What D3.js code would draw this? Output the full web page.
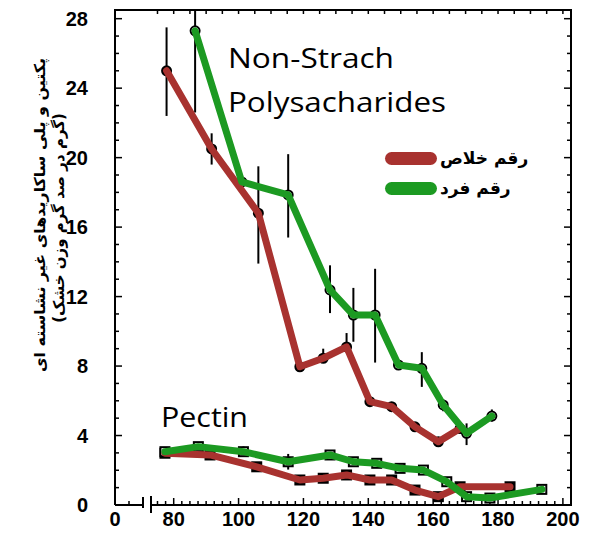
<!DOCTYPE html>
<html>
<head>
<meta charset="utf-8">
<script src="https://cdn.jsdelivr.net/npm/d3@7"></script>
<style>
  body { margin: 0; background: #fff; }
  svg { display: block; }
</style>
</head>
<body>
<div id="graph"></div>
<script>
// values
const xTicks = [80, 100, 120, 140, 160, 180, 200];
const yTicks = [0, 4, 8, 12, 16, 20, 24, 28];

// non-starch polysaccharides, رقم خلاص (red)
const nspRedX = [77.8, 91.7, 106.1, 118.9, 126.1, 133.3, 140.5, 147.2, 154.4, 161.6, 168.3];
const nspRedY = [25.0, 20.5, 16.8, 7.96, 8.45, 9.1, 5.95, 5.66, 4.5, 3.64, 4.4];
const nspRedLo = [22.4, 19.6, 13.9, 7.7, 8.2, 8.9, 5.7, 5.4, 4.25, 3.4, 4.2];
const nspRedHi = [27.5, 21.4, 19.5, 8.2, 9.0, 9.9, 6.2, 5.9, 4.75, 3.9, 4.6];

// non-starch polysaccharides, رقم فرد (green)
const nspGreenX = [86.6, 101.0, 115.3, 128.2, 135.4, 142.1, 149.3, 156.5, 163.1, 170.3, 178.1];
const nspGreenY = [27.3, 18.6, 17.85, 12.38, 10.94, 10.94, 8.06, 7.87, 5.76, 4.13, 5.12];
const nspGreenLo = [22.6, 18.3, 15.4, 11.05, 9.4, 8.2, 7.8, 6.8, 5.4, 3.45, 4.8];
const nspGreenHi = [28.5, 18.9, 20.2, 13.8, 12.5, 13.6, 8.3, 8.8, 6.1, 4.7, 5.5];

// pectin
const pecRedX = [77.3, 91.2, 105.6, 118.9, 126.1, 133.3, 140.5, 147.2, 154.4, 161.6, 168.3, 183.7];
const pecRedY = [2.98, 2.88, 2.2, 1.44, 1.54, 1.73, 1.44, 1.44, 0.86, 0.48, 1.05, 1.05];
const pecGreenX = [77.3, 87.6, 101.5, 115.3, 128.2, 135.4, 142.6, 149.8, 157.0, 164.2, 170.3, 177.5, 193.5];
const pecGreenY = [3.07, 3.36, 3.07, 2.49, 2.88, 2.49, 2.4, 2.11, 2.01, 1.34, 0.48, 0.4, 0.9];
const pecGreenErr = [0.2, 0.2, 0.3, 0.45, 0.2, 0.2, 0.2, 0.2, 0.2, 0.2, 0.2, 0, 0.2];

const legendNames = ["رقم خلاص", "رقم فرد"];
const yTitle = ["پکتین و پلی ساکاریدهای غیر نشاسته ای", "(گرم در صد گرم وزن خشک)"];
const colors = ["#a8322f", "#1c9a22"];

const w = 591;
const h = 541;

const svg = d3.select("#graph").append("svg")
  .attr("width", w)
  .attr("height", h);

// broken x axis: 0 on the left, then jump to the 73..202.5 part
const x = d3.scaleLinear()
  .domain([0, 8.6, 73, 202.5])
  .range([115, 143, 151, 571]);
const y = d3.scaleLinear()
  .domain([0, 28.5])
  .range([505, 10]);

const frame = svg.append("g").attr("stroke", "black").attr("stroke-width", 2).attr("fill", "none");
frame.append("path")
  .attr("d", `M${x(0)},${y(0)} V${y(28.5)} H${x(202.5)} V${y(0)} H${x(73)}`);
frame.append("line").attr("x1", x(0)).attr("x2", x(8.6)).attr("y1", y(0)).attr("y2", y(0));
// break marks
frame.append("line").attr("x1", x(8.6)).attr("x2", x(8.6)).attr("y1", y(0) - 8).attr("y2", y(0) + 3);
frame.append("line").attr("x1", x(73)).attr("x2", x(73)).attr("y1", y(0) - 9).attr("y2", y(0) + 8);

// minor ticks, all pointing inward
const ticks = svg.append("g").attr("stroke", "black").attr("stroke-width", 1.5);
d3.range(1, 28.5, 1).forEach((v) => {
  const len = v % 4 === 0 ? 7 : 4;
  ticks.append("line").attr("x1", x(0)).attr("x2", x(0) + len).attr("y1", y(v)).attr("y2", y(v));
  ticks.append("line").attr("x1", x(202.5)).attr("x2", x(202.5) - len).attr("y1", y(v)).attr("y2", y(v));
});
d3.range(75, 202, 5).forEach((v) => {
  ticks.append("line").attr("x1", x(v)).attr("x2", x(v)).attr("y1", y(28.5)).attr("y2", y(28.5) + 4);
});
d3.range(75, 202, 2.5).forEach((v) => {
  const len = v % 20 === 0 ? 7 : 4;
  ticks.append("line").attr("x1", x(v)).attr("x2", x(v)).attr("y1", y(0)).attr("y2", y(0) - len);
});
ticks.append("line").attr("x1", x(4.3)).attr("x2", x(4.3)).attr("y1", y(0)).attr("y2", y(0) - 4);

// tick labels
const labelFont = "'Liberation Sans', Arial, sans-serif";
svg.append("g").selectAll("text")
  .data(yTicks).enter().append("text")
  .attr("x", 88).attr("y", (d) => y(d)).attr("dy", "0.36em")
  .attr("text-anchor", "end")
  .attr("font-family", labelFont)
  .attr("font-weight", "bold").attr("font-size", "20px")
  .text((d) => d);

svg.append("g").selectAll("text")
  .data([0].concat(xTicks)).enter().append("text")
  .attr("x", (d) => x(d)).attr("y", 526)
  .attr("text-anchor", "middle")
  .attr("font-family", labelFont)
  .attr("font-weight", "bold").attr("font-size", "20px")
  .text((d) => d);

// y axis title (two lines, rotated)
const titleLen = [314, null];
svg.append("g").selectAll("text")
  .data(yTitle).enter().append("text")
  .attr("transform", (d, i) => `translate(${40 + i * 19},${215 + i * 3}) rotate(-90)`)
  .attr("dy", "0.35em")
  .attr("text-anchor", "middle")
  .attr("font-family", "'DejaVu Sans', sans-serif")
  .attr("font-weight", "bold").attr("font-size", "15px")
  .attr("textLength", (d, i) => titleLen[i])
  .attr("lengthAdjust", (d, i) => titleLen[i] ? "spacingAndGlyphs" : null)
  .text((d) => d);

// error bars
function errorBars(xs, lo, hi) {
  svg.append("g").attr("stroke", "black").attr("stroke-width", 2)
    .selectAll("line").data(xs).enter().append("line")
    .attr("x1", (d) => x(d)).attr("x2", (d) => x(d))
    .attr("y1", (d, i) => y(Math.min(lo[i], 28.5)))
    .attr("y2", (d, i) => y(Math.min(hi[i], 28.5)));
}
errorBars(nspRedX, nspRedLo, nspRedHi);
errorBars(nspGreenX, nspGreenLo, nspGreenHi);
errorBars(pecGreenX, pecGreenY.map((v, i) => v - pecGreenErr[i]), pecGreenY.map((v, i) => v + pecGreenErr[i]));

// markers
function circles(xs, ys, fill) {
  svg.append("g").selectAll("circle").data(xs).enter().append("circle")
    .attr("cx", (d) => x(d)).attr("cy", (d, i) => y(ys[i])).attr("r", 4.5)
    .attr("fill", fill).attr("stroke", "black").attr("stroke-width", 2);
}
function squares(xs, ys, fill) {
  svg.append("g").selectAll("rect").data(xs).enter().append("rect")
    .attr("x", (d) => x(d) - 4.5).attr("y", (d, i) => y(ys[i]) - 4.5)
    .attr("width", 9).attr("height", 9)
    .attr("fill", fill).attr("stroke", "black").attr("stroke-width", 2);
}
circles(nspRedX, nspRedY, "black");
circles(nspGreenX, nspGreenY, "white");
squares(pecRedX, pecRedY, "black");
squares(pecGreenX, pecGreenY, "white");

// lines
function series(xs, ys, color) {
  const line = d3.line().x((d) => x(d[0])).y((d) => y(d[1]));
  svg.append("path")
    .datum(xs.map((v, i) => [v, ys[i]]))
    .attr("d", line)
    .attr("fill", "none")
    .attr("stroke", color)
    .attr("stroke-width", 7)
    .attr("stroke-linejoin", "round")
    .attr("stroke-linecap", "round");
}
series(pecRedX, pecRedY, colors[0]);
series(pecGreenX, pecGreenY, colors[1]);
series(nspRedX, nspRedY, colors[0]);
series(nspGreenX, nspGreenY, colors[1]);

// panel captions
const capFont = "'Open Sans', 'Noto Sans', sans-serif";
function caption(txt, cx, cy, len) {
  svg.append("text").attr("x", cx).attr("y", cy)
    .attr("font-family", capFont).attr("font-size", "28px")
    .attr("textLength", len).attr("lengthAdjust", "spacingAndGlyphs")
    .text(txt);
}
caption("Non-Strach", 228, 68, 166);
caption("Polysacharides", 228, 112, 218);
caption("Pectin", 161, 427, 87);

// legend
const legend = svg.append("g").selectAll("g")
  .data(legendNames).enter().append("g")
  .attr("transform", (d, i) => `translate(385,${152 + i * 30})`);
legend.append("rect")
  .attr("width", 52).attr("height", 13).attr("rx", 6.5)
  .attr("fill", (d, i) => colors[i]);
legend.append("text")
  .attr("x", 55).attr("y", 6.5).attr("dy", "0.35em")
  .attr("font-family", "'DejaVu Sans', sans-serif")
  .attr("font-weight", "bold").attr("font-size", "17px")
  .text((d) => d);
</script>
</body>
</html>
